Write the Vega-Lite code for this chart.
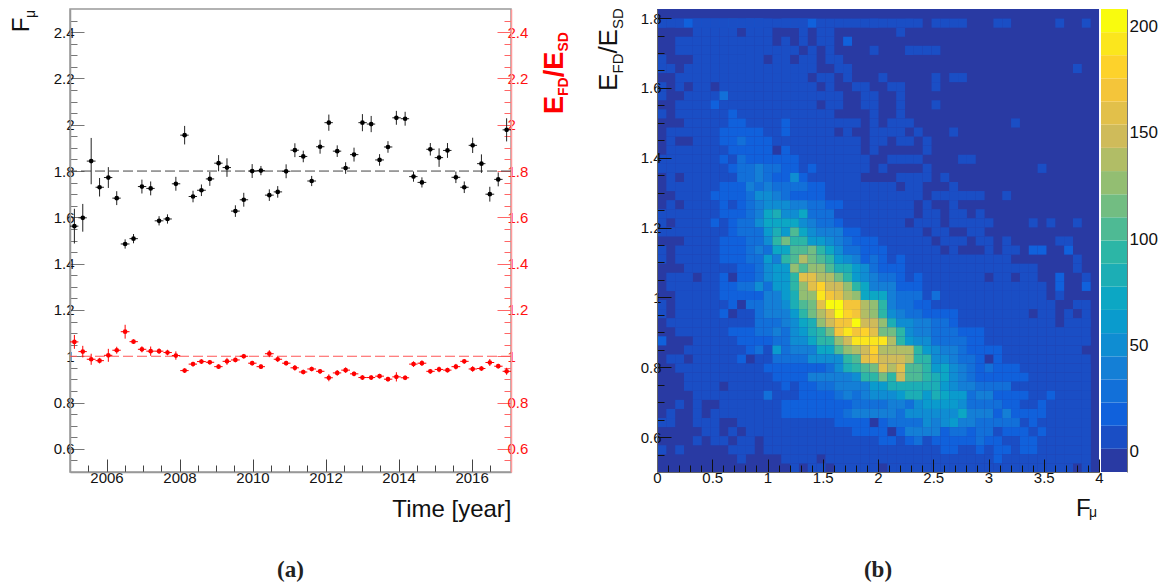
{
"$schema":"https://vega.github.io/schema/vega-lite/v6.json",
"padding":{"left":8,"top":8,"right":0,"bottom":0},
"background":"white",
"bounds":"flush",
"spacing":146,
"config":{"view":{"stroke":null},"axis":{"labelFont":"Liberation Sans","titleFont":"Liberation Sans","grid":false},"text":{"font":"Liberation Sans"},"title":{"font":"Liberation Serif","fontWeight":"bold","fontSize":23,"color":"#222"}},
"datasets":{"d":[
{"t":2005.12,"a":2005.0,"b":2005.23,"f":1.562,"fl":1.487,"fh":1.637,"e":1.062,"el":1.032,"eh":1.092},
{"t":2005.35,"a":2005.23,"b":2005.46,"f":1.598,"fl":1.538,"fh":1.658,"e":1.02,"el":0.995,"eh":1.045},
{"t":2005.58,"a":2005.46,"b":2005.7,"f":1.843,"fl":1.743,"fh":1.943,"e":0.987,"el":0.963,"eh":1.011},
{"t":2005.81,"a":2005.7,"b":2005.93,"f":1.73,"fl":1.69,"fh":1.77,"e":0.981,"el":0.969,"eh":0.993},
{"t":2006.05,"a":2005.93,"b":2006.16,"f":1.772,"fl":1.727,"fh":1.817,"e":1.004,"el":0.976,"eh":1.032},
{"t":2006.28,"a":2006.16,"b":2006.39,"f":1.683,"fl":1.653,"fh":1.713,"e":1.026,"el":1.011,"eh":1.041},
{"t":2006.51,"a":2006.39,"b":2006.63,"f":1.485,"fl":1.465,"fh":1.505,"e":1.106,"el":1.076,"eh":1.136},
{"t":2006.74,"a":2006.63,"b":2006.86,"f":1.508,"fl":1.488,"fh":1.528,"e":1.063,"el":1.053,"eh":1.073},
{"t":2006.97,"a":2006.86,"b":2007.09,"f":1.733,"fl":1.703,"fh":1.763,"e":1.03,"el":1.017,"eh":1.043},
{"t":2007.21,"a":2007.09,"b":2007.32,"f":1.725,"fl":1.695,"fh":1.755,"e":1.022,"el":1.002,"eh":1.042},
{"t":2007.44,"a":2007.32,"b":2007.56,"f":1.585,"fl":1.565,"fh":1.605,"e":1.022,"el":1.01,"eh":1.034},
{"t":2007.67,"a":2007.56,"b":2007.79,"f":1.593,"fl":1.573,"fh":1.613,"e":1.016,"el":1.004,"eh":1.028},
{"t":2007.9,"a":2007.79,"b":2008.02,"f":1.745,"fl":1.715,"fh":1.775,"e":1.003,"el":0.985,"eh":1.021},
{"t":2008.14,"a":2008.02,"b":2008.25,"f":1.955,"fl":1.915,"fh":1.995,"e":0.938,"el":0.928,"eh":0.948},
{"t":2008.37,"a":2008.25,"b":2008.48,"f":1.69,"fl":1.665,"fh":1.715,"e":0.966,"el":0.956,"eh":0.976},
{"t":2008.6,"a":2008.48,"b":2008.72,"f":1.717,"fl":1.692,"fh":1.742,"e":0.977,"el":0.967,"eh":0.987},
{"t":2008.83,"a":2008.72,"b":2008.95,"f":1.766,"fl":1.736,"fh":1.796,"e":0.974,"el":0.964,"eh":0.984},
{"t":2009.07,"a":2008.95,"b":2009.18,"f":1.834,"fl":1.799,"fh":1.869,"e":0.955,"el":0.945,"eh":0.965},
{"t":2009.3,"a":2009.18,"b":2009.41,"f":1.815,"fl":1.775,"fh":1.855,"e":0.978,"el":0.963,"eh":0.993},
{"t":2009.53,"a":2009.41,"b":2009.65,"f":1.627,"fl":1.602,"fh":1.652,"e":0.984,"el":0.974,"eh":0.994},
{"t":2009.76,"a":2009.65,"b":2009.88,"f":1.676,"fl":1.646,"fh":1.706,"e":1.0,"el":0.99,"eh":1.01},
{"t":2009.99,"a":2009.88,"b":2010.11,"f":1.8,"fl":1.77,"fh":1.83,"e":0.97,"el":0.96,"eh":0.98},
{"t":2010.23,"a":2010.11,"b":2010.34,"f":1.802,"fl":1.782,"fh":1.822,"e":0.955,"el":0.945,"eh":0.965},
{"t":2010.46,"a":2010.34,"b":2010.58,"f":1.696,"fl":1.671,"fh":1.721,"e":1.011,"el":0.996,"eh":1.026},
{"t":2010.69,"a":2010.58,"b":2010.81,"f":1.71,"fl":1.685,"fh":1.735,"e":0.987,"el":0.975,"eh":0.999},
{"t":2010.92,"a":2010.81,"b":2011.04,"f":1.799,"fl":1.769,"fh":1.829,"e":0.97,"el":0.96,"eh":0.98},
{"t":2011.16,"a":2011.04,"b":2011.27,"f":1.89,"fl":1.86,"fh":1.92,"e":0.95,"el":0.938,"eh":0.962},
{"t":2011.39,"a":2011.27,"b":2011.5,"f":1.863,"fl":1.838,"fh":1.888,"e":0.932,"el":0.922,"eh":0.942},
{"t":2011.62,"a":2011.5,"b":2011.74,"f":1.757,"fl":1.735,"fh":1.779,"e":0.945,"el":0.935,"eh":0.955},
{"t":2011.85,"a":2011.74,"b":2011.97,"f":1.905,"fl":1.875,"fh":1.935,"e":0.935,"el":0.925,"eh":0.945},
{"t":2012.09,"a":2011.97,"b":2012.2,"f":2.009,"fl":1.974,"fh":2.044,"e":0.907,"el":0.892,"eh":0.922},
{"t":2012.32,"a":2012.2,"b":2012.43,"f":1.886,"fl":1.861,"fh":1.911,"e":0.928,"el":0.916,"eh":0.94},
{"t":2012.55,"a":2012.43,"b":2012.67,"f":1.813,"fl":1.788,"fh":1.838,"e":0.94,"el":0.928,"eh":0.952},
{"t":2012.78,"a":2012.67,"b":2012.9,"f":1.871,"fl":1.841,"fh":1.901,"e":0.924,"el":0.914,"eh":0.934},
{"t":2013.01,"a":2012.9,"b":2013.13,"f":2.009,"fl":1.972,"fh":2.046,"e":0.908,"el":0.898,"eh":0.918},
{"t":2013.25,"a":2013.13,"b":2013.36,"f":2.003,"fl":1.968,"fh":2.038,"e":0.908,"el":0.898,"eh":0.918},
{"t":2013.48,"a":2013.36,"b":2013.6,"f":1.848,"fl":1.823,"fh":1.873,"e":0.914,"el":0.904,"eh":0.924},
{"t":2013.71,"a":2013.6,"b":2013.83,"f":1.904,"fl":1.879,"fh":1.929,"e":0.901,"el":0.891,"eh":0.911},
{"t":2013.94,"a":2013.83,"b":2014.06,"f":2.03,"fl":2.0,"fh":2.06,"e":0.911,"el":0.891,"eh":0.931},
{"t":2014.18,"a":2014.06,"b":2014.29,"f":2.026,"fl":1.996,"fh":2.056,"e":0.907,"el":0.897,"eh":0.917},
{"t":2014.41,"a":2014.29,"b":2014.52,"f":1.776,"fl":1.754,"fh":1.798,"e":0.966,"el":0.954,"eh":0.978},
{"t":2014.64,"a":2014.52,"b":2014.76,"f":1.751,"fl":1.729,"fh":1.773,"e":0.97,"el":0.958,"eh":0.982},
{"t":2014.87,"a":2014.76,"b":2014.99,"f":1.894,"fl":1.867,"fh":1.921,"e":0.935,"el":0.925,"eh":0.945},
{"t":2015.11,"a":2014.99,"b":2015.22,"f":1.858,"fl":1.818,"fh":1.898,"e":0.943,"el":0.931,"eh":0.955},
{"t":2015.34,"a":2015.22,"b":2015.45,"f":1.889,"fl":1.857,"fh":1.921,"e":0.94,"el":0.93,"eh":0.95},
{"t":2015.57,"a":2015.45,"b":2015.69,"f":1.773,"fl":1.748,"fh":1.798,"e":0.955,"el":0.943,"eh":0.967},
{"t":2015.8,"a":2015.69,"b":2015.92,"f":1.73,"fl":1.705,"fh":1.755,"e":0.978,"el":0.968,"eh":0.988},
{"t":2016.03,"a":2015.92,"b":2016.15,"f":1.911,"fl":1.878,"fh":1.944,"e":0.945,"el":0.933,"eh":0.957},
{"t":2016.27,"a":2016.15,"b":2016.38,"f":1.832,"fl":1.792,"fh":1.872,"e":0.947,"el":0.937,"eh":0.957},
{"t":2016.5,"a":2016.38,"b":2016.62,"f":1.7,"fl":1.668,"fh":1.732,"e":0.973,"el":0.958,"eh":0.988},
{"t":2016.73,"a":2016.62,"b":2016.85,"f":1.764,"fl":1.734,"fh":1.794,"e":0.957,"el":0.947,"eh":0.967},
{"t":2016.96,"a":2016.85,"b":2017.08,"f":1.978,"fl":1.928,"fh":2.028,"e":0.935,"el":0.92,"eh":0.95}
],
"h":[
{"i":0,"j":50,"n":7},{"i":1,"j":50,"n":7},{"i":2,"j":50,"n":7},{"i":3,"j":50,"n":18},{"i":4,"j":50,"n":18},{"i":5,"j":50,"n":18},{"i":6,"j":50,"n":18},{"i":7,"j":50,"n":18},{"i":8,"j":50,"n":29},{"i":9,"j":50,"n":18},{"i":10,"j":50,"n":18},{"i":11,"j":50,"n":18},{"i":12,"j":50,"n":7},{"i":13,"j":50,"n":7},{"i":14,"j":50,"n":7},{"i":15,"j":50,"n":18},{"i":16,"j":50,"n":18},{"i":17,"j":50,"n":18},{"i":18,"j":50,"n":7},{"i":19,"j":50,"n":7},{"i":20,"j":50,"n":7},{"i":21,"j":50,"n":7},{"i":22,"j":50,"n":7},{"i":23,"j":50,"n":7},{"i":24,"j":50,"n":7},{"i":25,"j":50,"n":7},{"i":26,"j":50,"n":7},{"i":27,"j":50,"n":7},{"i":28,"j":50,"n":7},{"i":29,"j":50,"n":7},{"i":31,"j":50,"n":7},{"i":32,"j":50,"n":7},{"i":33,"j":50,"n":7},{"i":34,"j":50,"n":7},{"i":38,"j":50,"n":7},{"i":39,"j":50,"n":7},{"i":45,"j":50,"n":7},{"i":49,"j":50,"n":7},
{"i":0,"j":49,"n":7},{"i":2,"j":49,"n":7},{"i":4,"j":49,"n":7},{"i":5,"j":49,"n":7},{"i":6,"j":49,"n":7},{"i":7,"j":49,"n":7},{"i":8,"j":49,"n":7},{"i":9,"j":49,"n":7},{"i":10,"j":49,"n":7},{"i":11,"j":49,"n":7},{"i":12,"j":49,"n":7},{"i":14,"j":49,"n":7},{"i":15,"j":49,"n":7},{"i":16,"j":49,"n":7},{"i":24,"j":49,"n":7},
{"i":4,"j":48,"n":7},{"i":5,"j":48,"n":7},{"i":6,"j":48,"n":7},{"i":7,"j":48,"n":7},{"i":8,"j":48,"n":7},{"i":10,"j":48,"n":7},{"i":11,"j":48,"n":7},{"i":12,"j":48,"n":7},{"i":16,"j":48,"n":7},{"i":18,"j":48,"n":7},{"i":19,"j":48,"n":7},{"i":27,"j":48,"n":7},
{"i":2,"j":47,"n":7},{"i":3,"j":47,"n":7},{"i":4,"j":47,"n":7},{"i":5,"j":47,"n":7},{"i":6,"j":47,"n":7},{"i":7,"j":47,"n":7},{"i":8,"j":47,"n":7},{"i":9,"j":47,"n":7},{"i":10,"j":47,"n":7},{"i":11,"j":47,"n":7},{"i":12,"j":47,"n":7},{"i":14,"j":47,"n":7},{"i":16,"j":47,"n":7},{"i":18,"j":47,"n":7},{"i":19,"j":47,"n":7},{"i":21,"j":47,"n":18},
{"i":2,"j":46,"n":7},{"i":3,"j":46,"n":7},{"i":4,"j":46,"n":7},{"i":5,"j":46,"n":7},{"i":6,"j":46,"n":7},{"i":7,"j":46,"n":7},{"i":8,"j":46,"n":7},{"i":9,"j":46,"n":7},{"i":10,"j":46,"n":7},{"i":11,"j":46,"n":7},{"i":12,"j":46,"n":7},{"i":13,"j":46,"n":7},{"i":14,"j":46,"n":7},{"i":15,"j":46,"n":7},{"i":17,"j":46,"n":7},{"i":19,"j":46,"n":7},{"i":24,"j":46,"n":7},{"i":28,"j":46,"n":7},{"i":29,"j":46,"n":7},{"i":30,"j":46,"n":7},{"i":31,"j":46,"n":7},
{"i":0,"j":45,"n":7},{"i":4,"j":45,"n":7},{"i":5,"j":45,"n":7},{"i":6,"j":45,"n":7},{"i":7,"j":45,"n":7},{"i":8,"j":45,"n":7},{"i":9,"j":45,"n":7},{"i":10,"j":45,"n":7},{"i":11,"j":45,"n":7},{"i":13,"j":45,"n":7},{"i":14,"j":45,"n":7},{"i":16,"j":45,"n":7},{"i":17,"j":45,"n":7},{"i":19,"j":45,"n":7},{"i":20,"j":45,"n":7},
{"i":0,"j":44,"n":7},{"i":1,"j":44,"n":7},{"i":3,"j":44,"n":7},{"i":4,"j":44,"n":7},{"i":5,"j":44,"n":7},{"i":6,"j":44,"n":7},{"i":7,"j":44,"n":7},{"i":8,"j":44,"n":7},{"i":9,"j":44,"n":7},{"i":10,"j":44,"n":7},{"i":11,"j":44,"n":7},{"i":12,"j":44,"n":7},{"i":13,"j":44,"n":7},{"i":14,"j":44,"n":7},{"i":15,"j":44,"n":7},{"i":16,"j":44,"n":7},{"i":17,"j":44,"n":7},{"i":20,"j":44,"n":7},{"i":21,"j":44,"n":7},{"i":47,"j":44,"n":7},
{"i":2,"j":43,"n":7},{"i":3,"j":43,"n":7},{"i":4,"j":43,"n":7},{"i":5,"j":43,"n":7},{"i":6,"j":43,"n":7},{"i":7,"j":43,"n":7},{"i":8,"j":43,"n":7},{"i":9,"j":43,"n":7},{"i":10,"j":43,"n":7},{"i":11,"j":43,"n":7},{"i":12,"j":43,"n":7},{"i":13,"j":43,"n":7},{"i":14,"j":43,"n":7},{"i":15,"j":43,"n":7},{"i":16,"j":43,"n":7},{"i":18,"j":43,"n":7},{"i":19,"j":43,"n":7},{"i":21,"j":43,"n":7},{"i":25,"j":43,"n":7},{"i":31,"j":43,"n":7},{"i":33,"j":43,"n":7},{"i":34,"j":43,"n":7},
{"i":0,"j":42,"n":7},{"i":2,"j":42,"n":7},{"i":4,"j":42,"n":7},{"i":5,"j":42,"n":7},{"i":7,"j":42,"n":7},{"i":8,"j":42,"n":7},{"i":9,"j":42,"n":7},{"i":10,"j":42,"n":7},{"i":11,"j":42,"n":7},{"i":12,"j":42,"n":7},{"i":13,"j":42,"n":7},{"i":14,"j":42,"n":7},{"i":15,"j":42,"n":7},{"i":16,"j":42,"n":7},{"i":17,"j":42,"n":7},{"i":19,"j":42,"n":7},{"i":22,"j":42,"n":7},{"i":23,"j":42,"n":7},{"i":26,"j":42,"n":7},{"i":27,"j":42,"n":7},{"i":31,"j":42,"n":7},
{"i":0,"j":41,"n":7},{"i":3,"j":41,"n":7},{"i":4,"j":41,"n":7},{"i":5,"j":41,"n":7},{"i":6,"j":41,"n":7},{"i":7,"j":41,"n":29},{"i":8,"j":41,"n":7},{"i":9,"j":41,"n":7},{"i":10,"j":41,"n":7},{"i":11,"j":41,"n":7},{"i":12,"j":41,"n":7},{"i":13,"j":41,"n":7},{"i":14,"j":41,"n":7},{"i":15,"j":41,"n":7},{"i":16,"j":41,"n":7},{"i":17,"j":41,"n":7},{"i":18,"j":41,"n":7},{"i":19,"j":41,"n":7},{"i":20,"j":41,"n":7},{"i":23,"j":41,"n":7},{"i":24,"j":41,"n":7},{"i":27,"j":41,"n":7},
{"i":2,"j":40,"n":7},{"i":3,"j":40,"n":7},{"i":4,"j":40,"n":7},{"i":5,"j":40,"n":7},{"i":6,"j":40,"n":18},{"i":7,"j":40,"n":7},{"i":8,"j":40,"n":7},{"i":9,"j":40,"n":7},{"i":10,"j":40,"n":7},{"i":11,"j":40,"n":7},{"i":12,"j":40,"n":7},{"i":13,"j":40,"n":7},{"i":14,"j":40,"n":7},{"i":15,"j":40,"n":7},{"i":16,"j":40,"n":7},{"i":17,"j":40,"n":7},{"i":19,"j":40,"n":7},{"i":20,"j":40,"n":7},{"i":23,"j":40,"n":7},{"i":24,"j":40,"n":7},{"i":27,"j":40,"n":7},{"i":31,"j":40,"n":7},
{"i":0,"j":39,"n":7},{"i":2,"j":39,"n":7},{"i":3,"j":39,"n":7},{"i":4,"j":39,"n":7},{"i":5,"j":39,"n":7},{"i":6,"j":39,"n":7},{"i":7,"j":39,"n":7},{"i":8,"j":39,"n":18},{"i":9,"j":39,"n":7},{"i":10,"j":39,"n":7},{"i":11,"j":39,"n":7},{"i":12,"j":39,"n":7},{"i":13,"j":39,"n":7},{"i":14,"j":39,"n":7},{"i":15,"j":39,"n":7},{"i":16,"j":39,"n":7},{"i":17,"j":39,"n":7},{"i":18,"j":39,"n":7},{"i":19,"j":39,"n":7},{"i":24,"j":39,"n":7},{"i":27,"j":39,"n":7},
{"i":3,"j":38,"n":7},{"i":4,"j":38,"n":7},{"i":5,"j":38,"n":7},{"i":6,"j":38,"n":7},{"i":7,"j":38,"n":7},{"i":8,"j":38,"n":18},{"i":9,"j":38,"n":18},{"i":10,"j":38,"n":7},{"i":11,"j":38,"n":7},{"i":12,"j":38,"n":7},{"i":13,"j":38,"n":7},{"i":14,"j":38,"n":18},{"i":15,"j":38,"n":7},{"i":16,"j":38,"n":7},{"i":17,"j":38,"n":7},{"i":18,"j":38,"n":7},{"i":19,"j":38,"n":7},{"i":20,"j":38,"n":7},{"i":21,"j":38,"n":7},{"i":22,"j":38,"n":7},{"i":24,"j":38,"n":7},{"i":26,"j":38,"n":7},{"i":27,"j":38,"n":7},{"i":28,"j":38,"n":7},{"i":40,"j":38,"n":7},
{"i":1,"j":37,"n":7},{"i":2,"j":37,"n":7},{"i":3,"j":37,"n":7},{"i":4,"j":37,"n":7},{"i":5,"j":37,"n":7},{"i":6,"j":37,"n":7},{"i":7,"j":37,"n":18},{"i":8,"j":37,"n":18},{"i":9,"j":37,"n":18},{"i":10,"j":37,"n":18},{"i":11,"j":37,"n":18},{"i":12,"j":37,"n":7},{"i":13,"j":37,"n":7},{"i":14,"j":37,"n":18},{"i":15,"j":37,"n":7},{"i":16,"j":37,"n":7},{"i":17,"j":37,"n":7},{"i":18,"j":37,"n":7},{"i":19,"j":37,"n":7},{"i":21,"j":37,"n":7},{"i":24,"j":37,"n":7},{"i":25,"j":37,"n":7},{"i":26,"j":37,"n":7},{"i":27,"j":37,"n":7},{"i":29,"j":37,"n":7},{"i":33,"j":37,"n":7},
{"i":1,"j":36,"n":7},{"i":4,"j":36,"n":7},{"i":5,"j":36,"n":7},{"i":6,"j":36,"n":7},{"i":7,"j":36,"n":18},{"i":8,"j":36,"n":18},{"i":9,"j":36,"n":29},{"i":10,"j":36,"n":18},{"i":11,"j":36,"n":18},{"i":12,"j":36,"n":18},{"i":13,"j":36,"n":7},{"i":14,"j":36,"n":7},{"i":15,"j":36,"n":7},{"i":16,"j":36,"n":7},{"i":17,"j":36,"n":7},{"i":18,"j":36,"n":7},{"i":19,"j":36,"n":7},{"i":20,"j":36,"n":7},{"i":21,"j":36,"n":7},{"i":22,"j":36,"n":7},{"i":24,"j":36,"n":7},{"i":25,"j":36,"n":7},{"i":27,"j":36,"n":7},{"i":28,"j":36,"n":7},{"i":30,"j":36,"n":7},
{"i":1,"j":35,"n":7},{"i":2,"j":35,"n":7},{"i":3,"j":35,"n":7},{"i":4,"j":35,"n":7},{"i":5,"j":35,"n":7},{"i":6,"j":35,"n":7},{"i":7,"j":35,"n":7},{"i":8,"j":35,"n":18},{"i":9,"j":35,"n":18},{"i":10,"j":35,"n":18},{"i":11,"j":35,"n":18},{"i":12,"j":35,"n":18},{"i":14,"j":35,"n":18},{"i":15,"j":35,"n":7},{"i":16,"j":35,"n":7},{"i":17,"j":35,"n":7},{"i":18,"j":35,"n":7},{"i":19,"j":35,"n":7},{"i":20,"j":35,"n":7},{"i":21,"j":35,"n":7},{"i":22,"j":35,"n":7},{"i":24,"j":35,"n":7},{"i":30,"j":35,"n":7},
{"i":0,"j":34,"n":7},{"i":1,"j":34,"n":7},{"i":2,"j":34,"n":7},{"i":3,"j":34,"n":7},{"i":4,"j":34,"n":7},{"i":5,"j":34,"n":7},{"i":6,"j":34,"n":7},{"i":7,"j":34,"n":18},{"i":8,"j":34,"n":7},{"i":9,"j":34,"n":29},{"i":10,"j":34,"n":18},{"i":11,"j":34,"n":18},{"i":12,"j":34,"n":18},{"i":13,"j":34,"n":18},{"i":14,"j":34,"n":18},{"i":15,"j":34,"n":18},{"i":16,"j":34,"n":7},{"i":17,"j":34,"n":7},{"i":18,"j":34,"n":7},{"i":19,"j":34,"n":7},{"i":20,"j":34,"n":7},{"i":21,"j":34,"n":7},{"i":22,"j":34,"n":7},{"i":23,"j":34,"n":7},{"i":26,"j":34,"n":7},{"i":27,"j":34,"n":7},{"i":28,"j":34,"n":7},{"i":29,"j":34,"n":7},{"i":34,"j":34,"n":7},{"i":35,"j":34,"n":7},
{"i":0,"j":33,"n":7},{"i":1,"j":33,"n":7},{"i":2,"j":33,"n":7},{"i":3,"j":33,"n":7},{"i":4,"j":33,"n":7},{"i":5,"j":33,"n":7},{"i":6,"j":33,"n":7},{"i":7,"j":33,"n":7},{"i":8,"j":33,"n":18},{"i":9,"j":33,"n":29},{"i":10,"j":33,"n":29},{"i":11,"j":33,"n":39},{"i":12,"j":33,"n":29},{"i":13,"j":33,"n":29},{"i":14,"j":33,"n":18},{"i":15,"j":33,"n":18},{"i":16,"j":33,"n":7},{"i":17,"j":33,"n":18},{"i":18,"j":33,"n":7},{"i":19,"j":33,"n":7},{"i":20,"j":33,"n":7},{"i":21,"j":33,"n":7},{"i":22,"j":33,"n":7},{"i":23,"j":33,"n":7},{"i":25,"j":33,"n":7},{"i":30,"j":33,"n":7},{"i":43,"j":33,"n":7},
{"i":1,"j":32,"n":7},{"i":3,"j":32,"n":7},{"i":4,"j":32,"n":7},{"i":5,"j":32,"n":7},{"i":6,"j":32,"n":7},{"i":7,"j":32,"n":7},{"i":8,"j":32,"n":7},{"i":9,"j":32,"n":29},{"i":10,"j":32,"n":29},{"i":11,"j":32,"n":39},{"i":12,"j":32,"n":29},{"i":13,"j":32,"n":18},{"i":14,"j":32,"n":18},{"i":15,"j":32,"n":50},{"i":16,"j":32,"n":18},{"i":17,"j":32,"n":7},{"i":18,"j":32,"n":7},{"i":19,"j":32,"n":7},{"i":20,"j":32,"n":7},{"i":21,"j":32,"n":7},{"i":22,"j":32,"n":7},{"i":27,"j":32,"n":7},{"i":28,"j":32,"n":7},{"i":29,"j":32,"n":7},{"i":30,"j":32,"n":7},{"i":32,"j":32,"n":7},
{"i":1,"j":31,"n":7},{"i":2,"j":31,"n":7},{"i":3,"j":31,"n":7},{"i":4,"j":31,"n":7},{"i":5,"j":31,"n":7},{"i":6,"j":31,"n":7},{"i":7,"j":31,"n":18},{"i":8,"j":31,"n":18},{"i":9,"j":31,"n":18},{"i":10,"j":31,"n":39},{"i":11,"j":31,"n":29},{"i":12,"j":31,"n":39},{"i":13,"j":31,"n":29},{"i":14,"j":31,"n":29},{"i":15,"j":31,"n":29},{"i":16,"j":31,"n":29},{"i":17,"j":31,"n":18},{"i":18,"j":31,"n":18},{"i":19,"j":31,"n":7},{"i":20,"j":31,"n":7},{"i":21,"j":31,"n":7},{"i":22,"j":31,"n":7},{"i":23,"j":31,"n":7},{"i":24,"j":31,"n":7},{"i":25,"j":31,"n":7},{"i":26,"j":31,"n":7},{"i":28,"j":31,"n":7},{"i":29,"j":31,"n":7},{"i":33,"j":31,"n":7},
{"i":2,"j":30,"n":7},{"i":3,"j":30,"n":7},{"i":4,"j":30,"n":7},{"i":5,"j":30,"n":7},{"i":6,"j":30,"n":18},{"i":7,"j":30,"n":18},{"i":8,"j":30,"n":18},{"i":9,"j":30,"n":18},{"i":10,"j":30,"n":29},{"i":11,"j":30,"n":50},{"i":12,"j":30,"n":50},{"i":13,"j":30,"n":39},{"i":14,"j":30,"n":29},{"i":15,"j":30,"n":18},{"i":16,"j":30,"n":18},{"i":17,"j":30,"n":18},{"i":18,"j":30,"n":18},{"i":19,"j":30,"n":7},{"i":20,"j":30,"n":7},{"i":21,"j":30,"n":7},{"i":22,"j":30,"n":7},{"i":23,"j":30,"n":7},{"i":24,"j":30,"n":7},{"i":25,"j":30,"n":7},{"i":26,"j":30,"n":7},{"i":27,"j":30,"n":7},{"i":28,"j":30,"n":7},{"i":29,"j":30,"n":7},{"i":31,"j":30,"n":7},{"i":32,"j":30,"n":7},{"i":33,"j":30,"n":7},{"i":34,"j":30,"n":7},{"i":35,"j":30,"n":7},{"i":36,"j":30,"n":7},{"i":39,"j":30,"n":7},
{"i":1,"j":29,"n":7},{"i":3,"j":29,"n":7},{"i":4,"j":29,"n":7},{"i":5,"j":29,"n":7},{"i":6,"j":29,"n":7},{"i":7,"j":29,"n":18},{"i":8,"j":29,"n":7},{"i":9,"j":29,"n":18},{"i":10,"j":29,"n":29},{"i":11,"j":29,"n":39},{"i":12,"j":29,"n":50},{"i":13,"j":29,"n":50},{"i":14,"j":29,"n":50},{"i":15,"j":29,"n":39},{"i":16,"j":29,"n":39},{"i":17,"j":29,"n":29},{"i":18,"j":29,"n":29},{"i":19,"j":29,"n":18},{"i":20,"j":29,"n":18},{"i":21,"j":29,"n":7},{"i":22,"j":29,"n":7},{"i":23,"j":29,"n":7},{"i":24,"j":29,"n":7},{"i":25,"j":29,"n":7},{"i":26,"j":29,"n":7},{"i":27,"j":29,"n":7},{"i":28,"j":29,"n":7},{"i":30,"j":29,"n":7},{"i":33,"j":29,"n":7},
{"i":0,"j":28,"n":7},{"i":1,"j":28,"n":7},{"i":2,"j":28,"n":7},{"i":3,"j":28,"n":7},{"i":4,"j":28,"n":7},{"i":5,"j":28,"n":7},{"i":6,"j":28,"n":7},{"i":7,"j":28,"n":18},{"i":8,"j":28,"n":18},{"i":9,"j":28,"n":18},{"i":10,"j":28,"n":29},{"i":11,"j":28,"n":39},{"i":12,"j":28,"n":72},{"i":13,"j":28,"n":83},{"i":14,"j":28,"n":50},{"i":15,"j":28,"n":50},{"i":16,"j":28,"n":72},{"i":17,"j":28,"n":29},{"i":18,"j":28,"n":29},{"i":19,"j":28,"n":29},{"i":20,"j":28,"n":7},{"i":21,"j":28,"n":7},{"i":22,"j":28,"n":7},{"i":23,"j":28,"n":7},{"i":24,"j":28,"n":7},{"i":25,"j":28,"n":7},{"i":26,"j":28,"n":7},{"i":27,"j":28,"n":7},{"i":28,"j":28,"n":7},{"i":30,"j":28,"n":7},{"i":31,"j":28,"n":7},{"i":33,"j":28,"n":7},{"i":34,"j":28,"n":7},{"i":36,"j":28,"n":7},
{"i":0,"j":27,"n":7},{"i":2,"j":27,"n":7},{"i":3,"j":27,"n":7},{"i":4,"j":27,"n":7},{"i":5,"j":27,"n":7},{"i":6,"j":27,"n":18},{"i":7,"j":27,"n":7},{"i":8,"j":27,"n":18},{"i":9,"j":27,"n":29},{"i":10,"j":27,"n":29},{"i":11,"j":27,"n":50},{"i":12,"j":27,"n":72},{"i":13,"j":27,"n":72},{"i":14,"j":27,"n":72},{"i":15,"j":27,"n":72},{"i":16,"j":27,"n":50},{"i":17,"j":27,"n":39},{"i":18,"j":27,"n":29},{"i":19,"j":27,"n":29},{"i":20,"j":27,"n":18},{"i":21,"j":27,"n":7},{"i":22,"j":27,"n":7},{"i":23,"j":27,"n":7},{"i":24,"j":27,"n":7},{"i":25,"j":27,"n":7},{"i":26,"j":27,"n":7},{"i":27,"j":27,"n":7},{"i":29,"j":27,"n":7},{"i":30,"j":27,"n":7},{"i":31,"j":27,"n":7},{"i":33,"j":27,"n":7},{"i":34,"j":27,"n":7},{"i":35,"j":27,"n":7},{"i":36,"j":27,"n":7},{"i":37,"j":27,"n":7},{"i":42,"j":27,"n":7},{"i":44,"j":27,"n":7},{"i":47,"j":27,"n":7},
{"i":0,"j":26,"n":7},{"i":1,"j":26,"n":7},{"i":2,"j":26,"n":7},{"i":3,"j":26,"n":7},{"i":4,"j":26,"n":7},{"i":5,"j":26,"n":7},{"i":6,"j":26,"n":7},{"i":7,"j":26,"n":7},{"i":8,"j":26,"n":18},{"i":9,"j":26,"n":29},{"i":10,"j":26,"n":29},{"i":11,"j":26,"n":29},{"i":12,"j":26,"n":61},{"i":13,"j":26,"n":83},{"i":14,"j":26,"n":61},{"i":15,"j":26,"n":105},{"i":16,"j":26,"n":72},{"i":17,"j":26,"n":50},{"i":18,"j":26,"n":39},{"i":19,"j":26,"n":39},{"i":20,"j":26,"n":39},{"i":21,"j":26,"n":18},{"i":22,"j":26,"n":18},{"i":23,"j":26,"n":7},{"i":24,"j":26,"n":7},{"i":25,"j":26,"n":7},{"i":26,"j":26,"n":7},{"i":27,"j":26,"n":7},{"i":28,"j":26,"n":7},{"i":29,"j":26,"n":7},{"i":31,"j":26,"n":7},{"i":32,"j":26,"n":7},{"i":35,"j":26,"n":7},{"i":36,"j":26,"n":7},
{"i":3,"j":25,"n":7},{"i":4,"j":25,"n":7},{"i":5,"j":25,"n":7},{"i":6,"j":25,"n":7},{"i":7,"j":25,"n":18},{"i":8,"j":25,"n":18},{"i":9,"j":25,"n":18},{"i":10,"j":25,"n":29},{"i":11,"j":25,"n":29},{"i":12,"j":25,"n":50},{"i":13,"j":25,"n":94},{"i":14,"j":25,"n":116},{"i":15,"j":25,"n":94},{"i":16,"j":25,"n":94},{"i":17,"j":25,"n":61},{"i":18,"j":25,"n":61},{"i":19,"j":25,"n":50},{"i":20,"j":25,"n":39},{"i":21,"j":25,"n":29},{"i":22,"j":25,"n":18},{"i":23,"j":25,"n":18},{"i":24,"j":25,"n":18},{"i":25,"j":25,"n":7},{"i":26,"j":25,"n":7},{"i":27,"j":25,"n":7},{"i":28,"j":25,"n":7},{"i":29,"j":25,"n":7},{"i":30,"j":25,"n":7},{"i":32,"j":25,"n":7},{"i":33,"j":25,"n":7},{"i":34,"j":25,"n":7},{"i":36,"j":25,"n":7},{"i":37,"j":25,"n":7},{"i":39,"j":25,"n":7},{"i":45,"j":25,"n":7},{"i":46,"j":25,"n":7},
{"i":0,"j":24,"n":7},{"i":2,"j":24,"n":7},{"i":3,"j":24,"n":7},{"i":4,"j":24,"n":7},{"i":5,"j":24,"n":7},{"i":6,"j":24,"n":7},{"i":7,"j":24,"n":18},{"i":8,"j":24,"n":18},{"i":9,"j":24,"n":18},{"i":10,"j":24,"n":29},{"i":11,"j":24,"n":39},{"i":12,"j":24,"n":29},{"i":13,"j":24,"n":72},{"i":14,"j":24,"n":72},{"i":15,"j":24,"n":105},{"i":16,"j":24,"n":105},{"i":17,"j":24,"n":116},{"i":18,"j":24,"n":94},{"i":19,"j":24,"n":72},{"i":20,"j":24,"n":50},{"i":21,"j":24,"n":29},{"i":22,"j":24,"n":29},{"i":23,"j":24,"n":18},{"i":24,"j":24,"n":18},{"i":25,"j":24,"n":18},{"i":26,"j":24,"n":7},{"i":27,"j":24,"n":7},{"i":28,"j":24,"n":7},{"i":29,"j":24,"n":7},{"i":30,"j":24,"n":7},{"i":31,"j":24,"n":7},{"i":33,"j":24,"n":7},{"i":37,"j":24,"n":7},{"i":39,"j":24,"n":7},{"i":40,"j":24,"n":7},{"i":42,"j":24,"n":18},{"i":43,"j":24,"n":18},{"i":46,"j":24,"n":18},
{"i":0,"j":23,"n":7},{"i":2,"j":23,"n":7},{"i":3,"j":23,"n":7},{"i":4,"j":23,"n":7},{"i":5,"j":23,"n":7},{"i":6,"j":23,"n":7},{"i":7,"j":23,"n":18},{"i":8,"j":23,"n":18},{"i":9,"j":23,"n":18},{"i":10,"j":23,"n":29},{"i":11,"j":23,"n":29},{"i":12,"j":23,"n":61},{"i":13,"j":23,"n":39},{"i":14,"j":23,"n":94},{"i":15,"j":23,"n":105},{"i":16,"j":23,"n":137},{"i":17,"j":23,"n":116},{"i":18,"j":23,"n":105},{"i":19,"j":23,"n":94},{"i":20,"j":23,"n":61},{"i":21,"j":23,"n":50},{"i":22,"j":23,"n":39},{"i":23,"j":23,"n":18},{"i":24,"j":23,"n":29},{"i":25,"j":23,"n":18},{"i":26,"j":23,"n":7},{"i":27,"j":23,"n":18},{"i":28,"j":23,"n":7},{"i":29,"j":23,"n":7},{"i":30,"j":23,"n":7},{"i":31,"j":23,"n":7},{"i":32,"j":23,"n":7},{"i":33,"j":23,"n":7},{"i":34,"j":23,"n":7},{"i":35,"j":23,"n":7},{"i":36,"j":23,"n":7},{"i":37,"j":23,"n":7},{"i":38,"j":23,"n":7},{"i":39,"j":23,"n":7},{"i":47,"j":23,"n":7},
{"i":3,"j":22,"n":7},{"i":4,"j":22,"n":7},{"i":5,"j":22,"n":7},{"i":6,"j":22,"n":7},{"i":7,"j":22,"n":7},{"i":8,"j":22,"n":7},{"i":9,"j":22,"n":18},{"i":10,"j":22,"n":18},{"i":11,"j":22,"n":29},{"i":12,"j":22,"n":50},{"i":13,"j":22,"n":61},{"i":14,"j":22,"n":61},{"i":15,"j":22,"n":126},{"i":16,"j":22,"n":105},{"i":17,"j":22,"n":126},{"i":18,"j":22,"n":126},{"i":19,"j":22,"n":105},{"i":20,"j":22,"n":83},{"i":21,"j":22,"n":83},{"i":22,"j":22,"n":61},{"i":23,"j":22,"n":50},{"i":24,"j":22,"n":29},{"i":25,"j":22,"n":18},{"i":26,"j":22,"n":18},{"i":27,"j":22,"n":18},{"i":28,"j":22,"n":7},{"i":29,"j":22,"n":7},{"i":30,"j":22,"n":7},{"i":31,"j":22,"n":7},{"i":32,"j":22,"n":7},{"i":33,"j":22,"n":7},{"i":34,"j":22,"n":7},{"i":35,"j":22,"n":7},{"i":36,"j":22,"n":7},{"i":37,"j":22,"n":7},{"i":38,"j":22,"n":7},{"i":39,"j":22,"n":7},{"i":40,"j":22,"n":7},{"i":41,"j":22,"n":7},{"i":42,"j":22,"n":7},{"i":47,"j":22,"n":7},
{"i":1,"j":21,"n":7},{"i":2,"j":21,"n":7},{"i":3,"j":21,"n":7},{"i":5,"j":21,"n":7},{"i":6,"j":21,"n":7},{"i":7,"j":21,"n":18},{"i":9,"j":21,"n":18},{"i":10,"j":21,"n":18},{"i":11,"j":21,"n":29},{"i":12,"j":21,"n":50},{"i":13,"j":21,"n":61},{"i":14,"j":21,"n":61},{"i":15,"j":21,"n":94},{"i":16,"j":21,"n":159},{"i":17,"j":21,"n":159},{"i":18,"j":21,"n":137},{"i":19,"j":21,"n":137},{"i":20,"j":21,"n":116},{"i":21,"j":21,"n":94},{"i":22,"j":21,"n":61},{"i":23,"j":21,"n":50},{"i":24,"j":21,"n":39},{"i":25,"j":21,"n":29},{"i":26,"j":21,"n":29},{"i":27,"j":21,"n":18},{"i":28,"j":21,"n":7},{"i":29,"j":21,"n":18},{"i":30,"j":21,"n":7},{"i":31,"j":21,"n":7},{"i":32,"j":21,"n":7},{"i":33,"j":21,"n":7},{"i":34,"j":21,"n":7},{"i":35,"j":21,"n":7},{"i":36,"j":21,"n":7},{"i":38,"j":21,"n":7},{"i":39,"j":21,"n":7},{"i":41,"j":21,"n":7},{"i":42,"j":21,"n":7},{"i":45,"j":21,"n":18},{"i":48,"j":21,"n":7},
{"i":1,"j":20,"n":7},{"i":2,"j":20,"n":7},{"i":3,"j":20,"n":7},{"i":4,"j":20,"n":7},{"i":5,"j":20,"n":7},{"i":6,"j":20,"n":7},{"i":7,"j":20,"n":18},{"i":8,"j":20,"n":18},{"i":9,"j":20,"n":29},{"i":10,"j":20,"n":29},{"i":11,"j":20,"n":50},{"i":12,"j":20,"n":29},{"i":13,"j":20,"n":61},{"i":14,"j":20,"n":61},{"i":15,"j":20,"n":94},{"i":16,"j":20,"n":126},{"i":17,"j":20,"n":159},{"i":18,"j":20,"n":181},{"i":19,"j":20,"n":148},{"i":20,"j":20,"n":148},{"i":21,"j":20,"n":126},{"i":22,"j":20,"n":94},{"i":23,"j":20,"n":72},{"i":24,"j":20,"n":39},{"i":25,"j":20,"n":39},{"i":26,"j":20,"n":39},{"i":27,"j":20,"n":18},{"i":28,"j":20,"n":18},{"i":29,"j":20,"n":18},{"i":30,"j":20,"n":7},{"i":31,"j":20,"n":7},{"i":32,"j":20,"n":7},{"i":33,"j":20,"n":7},{"i":34,"j":20,"n":7},{"i":35,"j":20,"n":7},{"i":36,"j":20,"n":7},{"i":37,"j":20,"n":7},{"i":38,"j":20,"n":7},{"i":39,"j":20,"n":7},{"i":40,"j":20,"n":7},{"i":41,"j":20,"n":7},{"i":42,"j":20,"n":7},{"i":43,"j":20,"n":7},{"i":45,"j":20,"n":18},{"i":48,"j":20,"n":18},
{"i":2,"j":19,"n":7},{"i":3,"j":19,"n":7},{"i":4,"j":19,"n":7},{"i":5,"j":19,"n":7},{"i":6,"j":19,"n":7},{"i":7,"j":19,"n":18},{"i":8,"j":19,"n":18},{"i":9,"j":19,"n":18},{"i":10,"j":19,"n":18},{"i":11,"j":19,"n":18},{"i":12,"j":19,"n":39},{"i":13,"j":19,"n":39},{"i":14,"j":19,"n":61},{"i":15,"j":19,"n":83},{"i":16,"j":19,"n":126},{"i":17,"j":19,"n":126},{"i":18,"j":19,"n":192},{"i":19,"j":19,"n":170},{"i":20,"j":19,"n":159},{"i":21,"j":19,"n":137},{"i":22,"j":19,"n":126},{"i":23,"j":19,"n":72},{"i":24,"j":19,"n":72},{"i":25,"j":19,"n":72},{"i":26,"j":19,"n":39},{"i":27,"j":19,"n":29},{"i":28,"j":19,"n":29},{"i":29,"j":19,"n":29},{"i":30,"j":19,"n":7},{"i":31,"j":19,"n":29},{"i":32,"j":19,"n":7},{"i":33,"j":19,"n":7},{"i":34,"j":19,"n":7},{"i":35,"j":19,"n":7},{"i":36,"j":19,"n":7},{"i":37,"j":19,"n":7},{"i":38,"j":19,"n":7},{"i":39,"j":19,"n":7},{"i":40,"j":19,"n":7},{"i":41,"j":19,"n":7},{"i":42,"j":19,"n":7},{"i":43,"j":19,"n":7},{"i":45,"j":19,"n":7},
{"i":0,"j":18,"n":7},{"i":2,"j":18,"n":7},{"i":3,"j":18,"n":7},{"i":4,"j":18,"n":7},{"i":5,"j":18,"n":7},{"i":6,"j":18,"n":7},{"i":7,"j":18,"n":7},{"i":8,"j":18,"n":18},{"i":10,"j":18,"n":29},{"i":11,"j":18,"n":29},{"i":12,"j":18,"n":39},{"i":13,"j":18,"n":39},{"i":14,"j":18,"n":50},{"i":15,"j":18,"n":83},{"i":16,"j":18,"n":105},{"i":17,"j":18,"n":116},{"i":18,"j":18,"n":159},{"i":19,"j":18,"n":203},{"i":20,"j":18,"n":203},{"i":21,"j":18,"n":170},{"i":22,"j":18,"n":170},{"i":23,"j":18,"n":137},{"i":24,"j":18,"n":126},{"i":25,"j":18,"n":94},{"i":26,"j":18,"n":39},{"i":27,"j":18,"n":29},{"i":28,"j":18,"n":29},{"i":29,"j":18,"n":18},{"i":30,"j":18,"n":18},{"i":31,"j":18,"n":7},{"i":32,"j":18,"n":7},{"i":33,"j":18,"n":7},{"i":34,"j":18,"n":7},{"i":35,"j":18,"n":7},{"i":36,"j":18,"n":7},{"i":37,"j":18,"n":7},{"i":38,"j":18,"n":7},{"i":39,"j":18,"n":7},{"i":40,"j":18,"n":7},{"i":41,"j":18,"n":7},{"i":42,"j":18,"n":7},{"i":43,"j":18,"n":7},{"i":44,"j":18,"n":7},{"i":47,"j":18,"n":7},{"i":48,"j":18,"n":7},
{"i":0,"j":17,"n":7},{"i":2,"j":17,"n":7},{"i":3,"j":17,"n":7},{"i":4,"j":17,"n":7},{"i":5,"j":17,"n":7},{"i":6,"j":17,"n":7},{"i":7,"j":17,"n":18},{"i":9,"j":17,"n":7},{"i":10,"j":17,"n":7},{"i":11,"j":17,"n":29},{"i":12,"j":17,"n":39},{"i":13,"j":17,"n":39},{"i":14,"j":17,"n":39},{"i":15,"j":17,"n":61},{"i":16,"j":17,"n":94},{"i":17,"j":17,"n":116},{"i":18,"j":17,"n":137},{"i":19,"j":17,"n":159},{"i":20,"j":17,"n":203},{"i":21,"j":17,"n":181},{"i":22,"j":17,"n":170},{"i":23,"j":17,"n":137},{"i":24,"j":17,"n":126},{"i":25,"j":17,"n":94},{"i":26,"j":17,"n":50},{"i":27,"j":17,"n":39},{"i":28,"j":17,"n":29},{"i":29,"j":17,"n":29},{"i":30,"j":17,"n":18},{"i":31,"j":17,"n":18},{"i":32,"j":17,"n":18},{"i":33,"j":17,"n":18},{"i":34,"j":17,"n":7},{"i":35,"j":17,"n":7},{"i":36,"j":17,"n":7},{"i":37,"j":17,"n":7},{"i":38,"j":17,"n":7},{"i":39,"j":17,"n":7},{"i":40,"j":17,"n":7},{"i":41,"j":17,"n":7},{"i":43,"j":17,"n":7},{"i":44,"j":17,"n":7},{"i":46,"j":17,"n":7},{"i":48,"j":17,"n":7},
{"i":1,"j":16,"n":7},{"i":2,"j":16,"n":7},{"i":3,"j":16,"n":7},{"i":4,"j":16,"n":7},{"i":5,"j":16,"n":7},{"i":6,"j":16,"n":7},{"i":7,"j":16,"n":7},{"i":8,"j":16,"n":7},{"i":9,"j":16,"n":7},{"i":10,"j":16,"n":7},{"i":11,"j":16,"n":29},{"i":12,"j":16,"n":29},{"i":13,"j":16,"n":29},{"i":14,"j":16,"n":39},{"i":15,"j":16,"n":50},{"i":16,"j":16,"n":72},{"i":17,"j":16,"n":83},{"i":18,"j":16,"n":126},{"i":19,"j":16,"n":148},{"i":20,"j":16,"n":170},{"i":21,"j":16,"n":170},{"i":22,"j":16,"n":203},{"i":23,"j":16,"n":148},{"i":24,"j":16,"n":148},{"i":25,"j":16,"n":126},{"i":26,"j":16,"n":83},{"i":27,"j":16,"n":50},{"i":28,"j":16,"n":50},{"i":29,"j":16,"n":39},{"i":30,"j":16,"n":39},{"i":31,"j":16,"n":29},{"i":32,"j":16,"n":29},{"i":33,"j":16,"n":18},{"i":34,"j":16,"n":7},{"i":35,"j":16,"n":7},{"i":36,"j":16,"n":7},{"i":37,"j":16,"n":7},{"i":38,"j":16,"n":7},{"i":39,"j":16,"n":7},{"i":40,"j":16,"n":7},{"i":41,"j":16,"n":7},{"i":42,"j":16,"n":7},{"i":43,"j":16,"n":7},{"i":44,"j":16,"n":7},{"i":46,"j":16,"n":7},{"i":47,"j":16,"n":7},{"i":48,"j":16,"n":7},{"i":49,"j":16,"n":7},
{"i":2,"j":15,"n":7},{"i":3,"j":15,"n":7},{"i":4,"j":15,"n":7},{"i":5,"j":15,"n":7},{"i":6,"j":15,"n":7},{"i":7,"j":15,"n":7},{"i":8,"j":15,"n":18},{"i":9,"j":15,"n":18},{"i":10,"j":15,"n":18},{"i":11,"j":15,"n":29},{"i":12,"j":15,"n":29},{"i":13,"j":15,"n":39},{"i":14,"j":15,"n":29},{"i":15,"j":15,"n":50},{"i":16,"j":15,"n":61},{"i":17,"j":15,"n":83},{"i":18,"j":15,"n":94},{"i":19,"j":15,"n":116},{"i":20,"j":15,"n":170},{"i":21,"j":15,"n":192},{"i":22,"j":15,"n":170},{"i":23,"j":15,"n":181},{"i":24,"j":15,"n":159},{"i":25,"j":15,"n":116},{"i":26,"j":15,"n":116},{"i":27,"j":15,"n":94},{"i":28,"j":15,"n":50},{"i":29,"j":15,"n":39},{"i":30,"j":15,"n":39},{"i":31,"j":15,"n":29},{"i":32,"j":15,"n":29},{"i":33,"j":15,"n":29},{"i":34,"j":15,"n":18},{"i":35,"j":15,"n":18},{"i":36,"j":15,"n":18},{"i":37,"j":15,"n":7},{"i":38,"j":15,"n":7},{"i":39,"j":15,"n":7},{"i":40,"j":15,"n":7},{"i":41,"j":15,"n":7},{"i":42,"j":15,"n":7},{"i":43,"j":15,"n":7},{"i":44,"j":15,"n":7},{"i":45,"j":15,"n":7},{"i":46,"j":15,"n":7},{"i":47,"j":15,"n":7},{"i":49,"j":15,"n":7},
{"i":0,"j":14,"n":18},{"i":4,"j":14,"n":7},{"i":5,"j":14,"n":7},{"i":6,"j":14,"n":7},{"i":7,"j":14,"n":7},{"i":8,"j":14,"n":7},{"i":9,"j":14,"n":18},{"i":10,"j":14,"n":18},{"i":11,"j":14,"n":18},{"i":12,"j":14,"n":18},{"i":13,"j":14,"n":29},{"i":14,"j":14,"n":29},{"i":15,"j":14,"n":50},{"i":16,"j":14,"n":50},{"i":17,"j":14,"n":72},{"i":18,"j":14,"n":94},{"i":19,"j":14,"n":94},{"i":20,"j":14,"n":126},{"i":21,"j":14,"n":148},{"i":22,"j":14,"n":192},{"i":23,"j":14,"n":192},{"i":24,"j":14,"n":192},{"i":25,"j":14,"n":192},{"i":26,"j":14,"n":137},{"i":27,"j":14,"n":94},{"i":28,"j":14,"n":61},{"i":29,"j":14,"n":50},{"i":30,"j":14,"n":50},{"i":31,"j":14,"n":29},{"i":32,"j":14,"n":29},{"i":33,"j":14,"n":29},{"i":34,"j":14,"n":29},{"i":35,"j":14,"n":18},{"i":36,"j":14,"n":18},{"i":37,"j":14,"n":7},{"i":38,"j":14,"n":7},{"i":39,"j":14,"n":7},{"i":40,"j":14,"n":7},{"i":41,"j":14,"n":7},{"i":42,"j":14,"n":7},{"i":43,"j":14,"n":7},{"i":44,"j":14,"n":7},{"i":45,"j":14,"n":7},{"i":46,"j":14,"n":7},{"i":47,"j":14,"n":7},{"i":48,"j":14,"n":7},{"i":49,"j":14,"n":7},
{"i":3,"j":13,"n":7},{"i":4,"j":13,"n":7},{"i":5,"j":13,"n":7},{"i":6,"j":13,"n":7},{"i":7,"j":13,"n":7},{"i":8,"j":13,"n":7},{"i":9,"j":13,"n":7},{"i":10,"j":13,"n":18},{"i":11,"j":13,"n":29},{"i":12,"j":13,"n":7},{"i":13,"j":13,"n":61},{"i":14,"j":13,"n":29},{"i":15,"j":13,"n":39},{"i":16,"j":13,"n":39},{"i":17,"j":13,"n":39},{"i":18,"j":13,"n":72},{"i":19,"j":13,"n":72},{"i":20,"j":13,"n":105},{"i":21,"j":13,"n":126},{"i":22,"j":13,"n":137},{"i":23,"j":13,"n":148},{"i":24,"j":13,"n":181},{"i":25,"j":13,"n":137},{"i":26,"j":13,"n":137},{"i":27,"j":13,"n":137},{"i":28,"j":13,"n":137},{"i":29,"j":13,"n":94},{"i":30,"j":13,"n":61},{"i":31,"j":13,"n":50},{"i":32,"j":13,"n":39},{"i":33,"j":13,"n":39},{"i":34,"j":13,"n":29},{"i":35,"j":13,"n":18},{"i":36,"j":13,"n":18},{"i":37,"j":13,"n":18},{"i":38,"j":13,"n":18},{"i":39,"j":13,"n":7},{"i":40,"j":13,"n":7},{"i":41,"j":13,"n":7},{"i":42,"j":13,"n":7},{"i":43,"j":13,"n":7},{"i":44,"j":13,"n":7},{"i":45,"j":13,"n":7},{"i":46,"j":13,"n":7},{"i":47,"j":13,"n":7},
{"i":1,"j":12,"n":7},{"i":2,"j":12,"n":7},{"i":4,"j":12,"n":7},{"i":5,"j":12,"n":7},{"i":6,"j":12,"n":7},{"i":7,"j":12,"n":7},{"i":8,"j":12,"n":7},{"i":9,"j":12,"n":18},{"i":11,"j":12,"n":7},{"i":12,"j":12,"n":7},{"i":13,"j":12,"n":29},{"i":14,"j":12,"n":29},{"i":15,"j":12,"n":29},{"i":16,"j":12,"n":29},{"i":17,"j":12,"n":50},{"i":18,"j":12,"n":50},{"i":19,"j":12,"n":50},{"i":20,"j":12,"n":50},{"i":21,"j":12,"n":94},{"i":22,"j":12,"n":105},{"i":23,"j":12,"n":159},{"i":24,"j":12,"n":170},{"i":25,"j":12,"n":148},{"i":26,"j":12,"n":148},{"i":27,"j":12,"n":148},{"i":28,"j":12,"n":137},{"i":29,"j":12,"n":94},{"i":30,"j":12,"n":94},{"i":31,"j":12,"n":50},{"i":32,"j":12,"n":50},{"i":33,"j":12,"n":39},{"i":34,"j":12,"n":29},{"i":35,"j":12,"n":29},{"i":36,"j":12,"n":18},{"i":38,"j":12,"n":18},{"i":39,"j":12,"n":7},{"i":40,"j":12,"n":7},{"i":41,"j":12,"n":7},{"i":42,"j":12,"n":7},{"i":43,"j":12,"n":7},{"i":44,"j":12,"n":7},{"i":45,"j":12,"n":7},{"i":46,"j":12,"n":7},{"i":47,"j":12,"n":7},{"i":48,"j":12,"n":7},
{"i":2,"j":11,"n":7},{"i":3,"j":11,"n":7},{"i":4,"j":11,"n":7},{"i":5,"j":11,"n":7},{"i":6,"j":11,"n":7},{"i":7,"j":11,"n":7},{"i":8,"j":11,"n":7},{"i":9,"j":11,"n":7},{"i":10,"j":11,"n":7},{"i":11,"j":11,"n":7},{"i":12,"j":11,"n":18},{"i":13,"j":11,"n":18},{"i":14,"j":11,"n":18},{"i":15,"j":11,"n":18},{"i":16,"j":11,"n":18},{"i":17,"j":11,"n":18},{"i":18,"j":11,"n":18},{"i":19,"j":11,"n":29},{"i":20,"j":11,"n":50},{"i":21,"j":11,"n":83},{"i":22,"j":11,"n":94},{"i":23,"j":11,"n":105},{"i":24,"j":11,"n":116},{"i":25,"j":11,"n":159},{"i":26,"j":11,"n":137},{"i":27,"j":11,"n":159},{"i":28,"j":11,"n":105},{"i":29,"j":11,"n":105},{"i":30,"j":11,"n":94},{"i":31,"j":11,"n":61},{"i":32,"j":11,"n":72},{"i":33,"j":11,"n":50},{"i":34,"j":11,"n":39},{"i":35,"j":11,"n":29},{"i":36,"j":11,"n":18},{"i":37,"j":11,"n":29},{"i":38,"j":11,"n":18},{"i":39,"j":11,"n":18},{"i":40,"j":11,"n":18},{"i":41,"j":11,"n":7},{"i":42,"j":11,"n":7},{"i":43,"j":11,"n":7},{"i":44,"j":11,"n":7},{"i":45,"j":11,"n":7},{"i":46,"j":11,"n":7},{"i":47,"j":11,"n":7},{"i":48,"j":11,"n":7},{"i":49,"j":11,"n":7},
{"i":3,"j":10,"n":7},{"i":4,"j":10,"n":7},{"i":5,"j":10,"n":7},{"i":6,"j":10,"n":7},{"i":7,"j":10,"n":7},{"i":8,"j":10,"n":7},{"i":9,"j":10,"n":7},{"i":10,"j":10,"n":7},{"i":11,"j":10,"n":7},{"i":12,"j":10,"n":7},{"i":13,"j":10,"n":18},{"i":14,"j":10,"n":18},{"i":15,"j":10,"n":18},{"i":16,"j":10,"n":18},{"i":17,"j":10,"n":39},{"i":18,"j":10,"n":39},{"i":19,"j":10,"n":39},{"i":20,"j":10,"n":39},{"i":21,"j":10,"n":39},{"i":22,"j":10,"n":50},{"i":23,"j":10,"n":94},{"i":24,"j":10,"n":94},{"i":25,"j":10,"n":116},{"i":26,"j":10,"n":94},{"i":27,"j":10,"n":148},{"i":28,"j":10,"n":105},{"i":29,"j":10,"n":105},{"i":30,"j":10,"n":94},{"i":31,"j":10,"n":83},{"i":32,"j":10,"n":72},{"i":33,"j":10,"n":50},{"i":34,"j":10,"n":39},{"i":35,"j":10,"n":29},{"i":36,"j":10,"n":18},{"i":37,"j":10,"n":18},{"i":38,"j":10,"n":18},{"i":39,"j":10,"n":18},{"i":40,"j":10,"n":18},{"i":41,"j":10,"n":18},{"i":42,"j":10,"n":7},{"i":43,"j":10,"n":7},{"i":44,"j":10,"n":7},{"i":45,"j":10,"n":7},{"i":46,"j":10,"n":7},{"i":47,"j":10,"n":7},{"i":48,"j":10,"n":7},{"i":49,"j":10,"n":7},
{"i":3,"j":9,"n":7},{"i":4,"j":9,"n":7},{"i":5,"j":9,"n":7},{"i":6,"j":9,"n":7},{"i":8,"j":9,"n":7},{"i":9,"j":9,"n":7},{"i":10,"j":9,"n":7},{"i":11,"j":9,"n":7},{"i":12,"j":9,"n":7},{"i":13,"j":9,"n":7},{"i":14,"j":9,"n":18},{"i":15,"j":9,"n":7},{"i":16,"j":9,"n":18},{"i":17,"j":9,"n":18},{"i":18,"j":9,"n":29},{"i":19,"j":9,"n":29},{"i":20,"j":9,"n":39},{"i":21,"j":9,"n":39},{"i":22,"j":9,"n":39},{"i":23,"j":9,"n":39},{"i":24,"j":9,"n":61},{"i":25,"j":9,"n":61},{"i":26,"j":9,"n":83},{"i":27,"j":9,"n":83},{"i":28,"j":9,"n":83},{"i":29,"j":9,"n":83},{"i":30,"j":9,"n":83},{"i":31,"j":9,"n":83},{"i":32,"j":9,"n":61},{"i":33,"j":9,"n":50},{"i":34,"j":9,"n":39},{"i":35,"j":9,"n":39},{"i":36,"j":9,"n":29},{"i":37,"j":9,"n":29},{"i":38,"j":9,"n":29},{"i":39,"j":9,"n":29},{"i":40,"j":9,"n":7},{"i":41,"j":9,"n":7},{"i":42,"j":9,"n":7},{"i":43,"j":9,"n":7},{"i":44,"j":9,"n":7},{"i":45,"j":9,"n":7},{"i":46,"j":9,"n":7},{"i":47,"j":9,"n":7},{"i":48,"j":9,"n":7},{"i":49,"j":9,"n":7},
{"i":4,"j":8,"n":7},{"i":5,"j":8,"n":7},{"i":6,"j":8,"n":7},{"i":7,"j":8,"n":7},{"i":8,"j":8,"n":7},{"i":9,"j":8,"n":7},{"i":10,"j":8,"n":7},{"i":11,"j":8,"n":7},{"i":12,"j":8,"n":29},{"i":13,"j":8,"n":7},{"i":14,"j":8,"n":7},{"i":15,"j":8,"n":7},{"i":16,"j":8,"n":18},{"i":17,"j":8,"n":18},{"i":18,"j":8,"n":18},{"i":19,"j":8,"n":18},{"i":20,"j":8,"n":29},{"i":21,"j":8,"n":39},{"i":22,"j":8,"n":29},{"i":23,"j":8,"n":39},{"i":24,"j":8,"n":50},{"i":25,"j":8,"n":50},{"i":26,"j":8,"n":50},{"i":27,"j":8,"n":61},{"i":28,"j":8,"n":83},{"i":29,"j":8,"n":83},{"i":30,"j":8,"n":61},{"i":31,"j":8,"n":83},{"i":32,"j":8,"n":72},{"i":33,"j":8,"n":61},{"i":34,"j":8,"n":61},{"i":35,"j":8,"n":29},{"i":36,"j":8,"n":39},{"i":37,"j":8,"n":39},{"i":38,"j":8,"n":18},{"i":39,"j":8,"n":18},{"i":40,"j":8,"n":18},{"i":41,"j":8,"n":18},{"i":42,"j":8,"n":7},{"i":43,"j":8,"n":7},{"i":44,"j":8,"n":18},{"i":45,"j":8,"n":7},{"i":46,"j":8,"n":7},{"i":47,"j":8,"n":7},{"i":48,"j":8,"n":7},{"i":49,"j":8,"n":7},
{"i":2,"j":7,"n":7},{"i":4,"j":7,"n":7},{"i":7,"j":7,"n":7},{"i":8,"j":7,"n":7},{"i":9,"j":7,"n":7},{"i":10,"j":7,"n":7},{"i":11,"j":7,"n":7},{"i":12,"j":7,"n":7},{"i":13,"j":7,"n":7},{"i":14,"j":7,"n":18},{"i":15,"j":7,"n":18},{"i":16,"j":7,"n":18},{"i":17,"j":7,"n":18},{"i":18,"j":7,"n":18},{"i":19,"j":7,"n":18},{"i":20,"j":7,"n":18},{"i":21,"j":7,"n":18},{"i":22,"j":7,"n":29},{"i":23,"j":7,"n":29},{"i":24,"j":7,"n":29},{"i":25,"j":7,"n":29},{"i":26,"j":7,"n":39},{"i":27,"j":7,"n":39},{"i":28,"j":7,"n":29},{"i":29,"j":7,"n":50},{"i":30,"j":7,"n":61},{"i":31,"j":7,"n":61},{"i":32,"j":7,"n":61},{"i":33,"j":7,"n":61},{"i":34,"j":7,"n":50},{"i":35,"j":7,"n":29},{"i":36,"j":7,"n":29},{"i":37,"j":7,"n":29},{"i":38,"j":7,"n":29},{"i":39,"j":7,"n":18},{"i":40,"j":7,"n":18},{"i":41,"j":7,"n":7},{"i":42,"j":7,"n":7},{"i":43,"j":7,"n":18},{"i":44,"j":7,"n":7},{"i":45,"j":7,"n":7},{"i":46,"j":7,"n":7},{"i":47,"j":7,"n":7},{"i":48,"j":7,"n":7},{"i":49,"j":7,"n":7},
{"i":1,"j":6,"n":7},{"i":4,"j":6,"n":7},{"i":6,"j":6,"n":7},{"i":7,"j":6,"n":7},{"i":8,"j":6,"n":7},{"i":9,"j":6,"n":7},{"i":10,"j":6,"n":7},{"i":11,"j":6,"n":7},{"i":12,"j":6,"n":7},{"i":13,"j":6,"n":7},{"i":14,"j":6,"n":18},{"i":15,"j":6,"n":18},{"i":16,"j":6,"n":18},{"i":17,"j":6,"n":18},{"i":18,"j":6,"n":18},{"i":19,"j":6,"n":18},{"i":20,"j":6,"n":18},{"i":21,"j":6,"n":29},{"i":22,"j":6,"n":39},{"i":23,"j":6,"n":39},{"i":24,"j":6,"n":39},{"i":25,"j":6,"n":39},{"i":26,"j":6,"n":39},{"i":27,"j":6,"n":29},{"i":28,"j":6,"n":50},{"i":29,"j":6,"n":50},{"i":30,"j":6,"n":50},{"i":31,"j":6,"n":50},{"i":32,"j":6,"n":50},{"i":33,"j":6,"n":50},{"i":34,"j":6,"n":72},{"i":35,"j":6,"n":39},{"i":36,"j":6,"n":39},{"i":37,"j":6,"n":39},{"i":38,"j":6,"n":18},{"i":39,"j":6,"n":39},{"i":40,"j":6,"n":18},{"i":41,"j":6,"n":18},{"i":42,"j":6,"n":18},{"i":43,"j":6,"n":18},{"i":44,"j":6,"n":7},{"i":45,"j":6,"n":7},{"i":46,"j":6,"n":7},{"i":47,"j":6,"n":7},{"i":48,"j":6,"n":7},{"i":49,"j":6,"n":7},
{"i":0,"j":5,"n":7},{"i":1,"j":5,"n":7},{"i":4,"j":5,"n":7},{"i":5,"j":5,"n":7},{"i":6,"j":5,"n":7},{"i":9,"j":5,"n":7},{"i":10,"j":5,"n":7},{"i":11,"j":5,"n":7},{"i":12,"j":5,"n":7},{"i":13,"j":5,"n":7},{"i":14,"j":5,"n":7},{"i":15,"j":5,"n":7},{"i":16,"j":5,"n":7},{"i":17,"j":5,"n":7},{"i":18,"j":5,"n":7},{"i":19,"j":5,"n":7},{"i":20,"j":5,"n":18},{"i":21,"j":5,"n":18},{"i":22,"j":5,"n":18},{"i":23,"j":5,"n":18},{"i":25,"j":5,"n":18},{"i":26,"j":5,"n":29},{"i":27,"j":5,"n":29},{"i":28,"j":5,"n":29},{"i":29,"j":5,"n":29},{"i":30,"j":5,"n":50},{"i":31,"j":5,"n":39},{"i":32,"j":5,"n":50},{"i":33,"j":5,"n":61},{"i":34,"j":5,"n":39},{"i":35,"j":5,"n":39},{"i":36,"j":5,"n":29},{"i":37,"j":5,"n":29},{"i":38,"j":5,"n":29},{"i":39,"j":5,"n":29},{"i":40,"j":5,"n":29},{"i":41,"j":5,"n":7},{"i":42,"j":5,"n":18},{"i":43,"j":5,"n":7},{"i":44,"j":5,"n":7},{"i":45,"j":5,"n":7},{"i":46,"j":5,"n":7},{"i":47,"j":5,"n":7},{"i":48,"j":5,"n":7},{"i":49,"j":5,"n":7},
{"i":5,"j":4,"n":7},{"i":6,"j":4,"n":7},{"i":8,"j":4,"n":7},{"i":10,"j":4,"n":7},{"i":11,"j":4,"n":7},{"i":12,"j":4,"n":7},{"i":13,"j":4,"n":7},{"i":14,"j":4,"n":7},{"i":15,"j":4,"n":7},{"i":16,"j":4,"n":7},{"i":17,"j":4,"n":7},{"i":18,"j":4,"n":7},{"i":19,"j":4,"n":7},{"i":20,"j":4,"n":7},{"i":21,"j":4,"n":7},{"i":22,"j":4,"n":18},{"i":23,"j":4,"n":18},{"i":24,"j":4,"n":18},{"i":25,"j":4,"n":18},{"i":27,"j":4,"n":18},{"i":28,"j":4,"n":39},{"i":29,"j":4,"n":39},{"i":30,"j":4,"n":39},{"i":31,"j":4,"n":39},{"i":32,"j":4,"n":18},{"i":33,"j":4,"n":29},{"i":34,"j":4,"n":29},{"i":35,"j":4,"n":18},{"i":36,"j":4,"n":29},{"i":37,"j":4,"n":29},{"i":38,"j":4,"n":7},{"i":39,"j":4,"n":18},{"i":40,"j":4,"n":18},{"i":41,"j":4,"n":18},{"i":42,"j":4,"n":7},{"i":43,"j":4,"n":18},{"i":44,"j":4,"n":7},{"i":45,"j":4,"n":7},{"i":46,"j":4,"n":7},{"i":47,"j":4,"n":7},{"i":48,"j":4,"n":7},{"i":49,"j":4,"n":7},
{"i":4,"j":3,"n":7},{"i":6,"j":3,"n":7},{"i":7,"j":3,"n":7},{"i":9,"j":3,"n":7},{"i":10,"j":3,"n":7},{"i":12,"j":3,"n":7},{"i":13,"j":3,"n":7},{"i":14,"j":3,"n":7},{"i":15,"j":3,"n":7},{"i":16,"j":3,"n":7},{"i":17,"j":3,"n":7},{"i":18,"j":3,"n":7},{"i":19,"j":3,"n":7},{"i":20,"j":3,"n":7},{"i":21,"j":3,"n":7},{"i":22,"j":3,"n":7},{"i":23,"j":3,"n":7},{"i":24,"j":3,"n":7},{"i":25,"j":3,"n":18},{"i":26,"j":3,"n":18},{"i":27,"j":3,"n":7},{"i":28,"j":3,"n":18},{"i":29,"j":3,"n":29},{"i":30,"j":3,"n":7},{"i":31,"j":3,"n":18},{"i":32,"j":3,"n":18},{"i":33,"j":3,"n":18},{"i":34,"j":3,"n":18},{"i":35,"j":3,"n":18},{"i":36,"j":3,"n":29},{"i":37,"j":3,"n":18},{"i":38,"j":3,"n":18},{"i":39,"j":3,"n":7},{"i":40,"j":3,"n":7},{"i":41,"j":3,"n":18},{"i":42,"j":3,"n":18},{"i":43,"j":3,"n":7},{"i":44,"j":3,"n":7},{"i":45,"j":3,"n":7},{"i":46,"j":3,"n":7},{"i":47,"j":3,"n":7},{"i":48,"j":3,"n":7},{"i":49,"j":3,"n":7},
{"i":0,"j":2,"n":7},{"i":2,"j":2,"n":7},{"i":8,"j":2,"n":7},{"i":9,"j":2,"n":7},{"i":10,"j":2,"n":7},{"i":12,"j":2,"n":7},{"i":13,"j":2,"n":7},{"i":14,"j":2,"n":7},{"i":15,"j":2,"n":7},{"i":16,"j":2,"n":7},{"i":17,"j":2,"n":7},{"i":18,"j":2,"n":7},{"i":19,"j":2,"n":7},{"i":20,"j":2,"n":7},{"i":21,"j":2,"n":7},{"i":22,"j":2,"n":7},{"i":23,"j":2,"n":7},{"i":24,"j":2,"n":7},{"i":25,"j":2,"n":7},{"i":26,"j":2,"n":7},{"i":27,"j":2,"n":7},{"i":28,"j":2,"n":7},{"i":29,"j":2,"n":7},{"i":30,"j":2,"n":7},{"i":31,"j":2,"n":7},{"i":32,"j":2,"n":18},{"i":33,"j":2,"n":18},{"i":34,"j":2,"n":7},{"i":35,"j":2,"n":7},{"i":36,"j":2,"n":18},{"i":37,"j":2,"n":7},{"i":38,"j":2,"n":18},{"i":39,"j":2,"n":18},{"i":40,"j":2,"n":7},{"i":41,"j":2,"n":18},{"i":42,"j":2,"n":18},{"i":43,"j":2,"n":7},{"i":44,"j":2,"n":7},{"i":45,"j":2,"n":7},{"i":46,"j":2,"n":7},{"i":47,"j":2,"n":7},{"i":48,"j":2,"n":7},{"i":49,"j":2,"n":7},
{"i":9,"j":1,"n":7},{"i":14,"j":1,"n":7},{"i":15,"j":1,"n":7},{"i":16,"j":1,"n":7},{"i":17,"j":1,"n":7},{"i":19,"j":1,"n":7},{"i":20,"j":1,"n":7},{"i":21,"j":1,"n":7},{"i":22,"j":1,"n":7},{"i":23,"j":1,"n":7},{"i":24,"j":1,"n":7},{"i":25,"j":1,"n":7},{"i":26,"j":1,"n":7},{"i":27,"j":1,"n":7},{"i":28,"j":1,"n":7},{"i":29,"j":1,"n":7},{"i":30,"j":1,"n":7},{"i":31,"j":1,"n":7},{"i":32,"j":1,"n":7},{"i":33,"j":1,"n":7},{"i":34,"j":1,"n":7},{"i":35,"j":1,"n":7},{"i":36,"j":1,"n":7},{"i":37,"j":1,"n":7},{"i":38,"j":1,"n":18},{"i":39,"j":1,"n":7},{"i":40,"j":1,"n":7},{"i":41,"j":1,"n":7},{"i":42,"j":1,"n":7},{"i":43,"j":1,"n":7},{"i":44,"j":1,"n":7},{"i":45,"j":1,"n":7},{"i":46,"j":1,"n":7},{"i":47,"j":1,"n":7},{"i":48,"j":1,"n":7},{"i":49,"j":1,"n":7},
{"i":15,"j":0,"n":7},{"i":17,"j":0,"n":7},{"i":18,"j":0,"n":7},{"i":20,"j":0,"n":7},{"i":21,"j":0,"n":7},{"i":22,"j":0,"n":7},{"i":23,"j":0,"n":7},{"i":24,"j":0,"n":7},{"i":26,"j":0,"n":7},{"i":27,"j":0,"n":7},{"i":28,"j":0,"n":7},{"i":29,"j":0,"n":7},{"i":30,"j":0,"n":7},{"i":31,"j":0,"n":7},{"i":32,"j":0,"n":7},{"i":33,"j":0,"n":7},{"i":34,"j":0,"n":7},{"i":35,"j":0,"n":7},{"i":36,"j":0,"n":7},{"i":37,"j":0,"n":7},{"i":38,"j":0,"n":7},{"i":39,"j":0,"n":7},{"i":40,"j":0,"n":7},{"i":41,"j":0,"n":7},{"i":42,"j":0,"n":7},{"i":43,"j":0,"n":7},{"i":44,"j":0,"n":7},{"i":45,"j":0,"n":7},{"i":46,"j":0,"n":7},{"i":48,"j":0,"n":7},{"i":49,"j":0,"n":7}
],
"c":[{"a":-9.4,"b":1.5,"n":0},{"a":1.5,"b":12.3,"n":7},{"a":12.3,"b":23.2,"n":18},{"a":23.2,"b":34.1,"n":29},{"a":34.1,"b":44.9,"n":39},{"a":44.9,"b":55.8,"n":50},{"a":55.8,"b":66.7,"n":61},{"a":66.7,"b":77.6,"n":72},{"a":77.6,"b":88.4,"n":83},{"a":88.4,"b":99.3,"n":94},{"a":99.3,"b":110.2,"n":105},{"a":110.2,"b":121,"n":116},{"a":121,"b":131.9,"n":126},{"a":131.9,"b":142.8,"n":137},{"a":142.8,"b":153.7,"n":148},{"a":153.7,"b":164.5,"n":159},{"a":164.5,"b":175.4,"n":170},{"a":175.4,"b":186.3,"n":181},{"a":186.3,"b":197.1,"n":192},{"a":197.1,"b":208,"n":203}],
"l":[{"v":1.8}],"m":[{"v":1.0}],
"lb":[{"x":2003.87,"y":2.4,"s":"F"}],
"ls":[{"x":2004.05,"y":2.461,"s":"μ"}],
"rb":[{"x":2018.5,"y":2.046,"s":"E"},{"x":2018.5,"y":2.205,"s":"/"},{"x":2018.5,"y":2.238,"s":"E"}],
"rs":[{"x":2018.64,"y":2.124,"s":"FD"},{"x":2018.64,"y":2.316,"s":"SD"}],
"hb":[{"x":-4.525,"y":41.96,"s":"E"},{"x":-4.525,"y":46.1,"s":"/"},{"x":-4.525,"y":46.87,"s":"E"},{"x":47.4,"y":-4.85,"s":"F"}],
"hs":[{"x":-3.846,"y":43.9,"s":"FD"},{"x":-3.846,"y":48.8,"s":"SD"}],
"hu":[{"x":48.87,"y":-4.96,"s":"μ"}]
},
"hconcat":[
{"width":441,"height":463,
 "view":{"stroke":"#999","strokeWidth":1.5},
 "title":{"text":"(a)","orient":"bottom","offset":38},
 "layer":[
 {"layer":[
 {"data":{"name":"l"},"mark":{"type":"rule","color":"#444","strokeDash":[10,4],"strokeWidth":1},"encoding":{"y":{"field":"v","type":"quantitative","scale":{"domain":[0.5,2.5],"nice":false},"axis":{"title":null,"tickCount":100,"values":[0.55,0.6,0.65,0.7,0.75,0.8,0.85,0.9,0.95,1,1.05,1.1,1.15,1.2,1.25,1.3,1.35,1.4,1.45,1.5,1.55,1.6,1.65,1.7,1.75,1.8,1.85,1.9,1.95,2,2.05,2.1,2.15,2.2,2.25,2.3,2.35,2.4,2.45],"labelExpr":"abs(datum.value*5-round(datum.value*5))<0.01 ? format(datum.value,'.1~f') : ''","format":".2f","domainColor":"#999","domainWidth":1.5,"tickColor":"#777","tickSize":{"condition":{"test":"abs(datum.value*5-round(datum.value*5))<0.01","value":-14},"value":-7},"labelFontSize":15,"labelColor":"#111","labelPadding":10,"labelOverlap":false,"labelFlush":false}}}},
 {"data":{"name":"d"},"mark":{"type":"rule","color":"#222"},"encoding":{"x":{"field":"a","type":"quantitative","scale":{"domain":[2005,2017.08],"nice":false},"axis":{"title":"Time [year]","tickCount":100,"format":".1f","titleFontSize":24,"titleFontWeight":"normal","titleColor":"#111","titleAnchor":"end","titlePadding":6,"values":[2005.5,2006,2006.5,2007,2007.5,2008,2008.5,2009,2009.5,2010,2010.5,2011,2011.5,2012,2012.5,2013,2013.5,2014,2014.5,2015,2015.5,2016,2016.5],"labelExpr":"datum.value%2==0?format(datum.value,'d'):''","tickColor":"#444","tickSize":{"condition":{"test":"datum.value%2==0","value":-13},"value":-7},"labelFontSize":15,"labelColor":"#111","labelPadding":11,"labelOverlap":false,"labelFlush":false,"domainColor":"#999","domainWidth":1.5}},"x2":{"field":"b"},"y":{"field":"f","type":"quantitative"}}},
 {"data":{"name":"d"},"mark":{"type":"rule","color":"#222"},"encoding":{"x":{"field":"t","type":"quantitative"},"y":{"field":"fl","type":"quantitative"},"y2":{"field":"fh"}}},
 {"data":{"name":"d"},"mark":{"type":"circle","color":"#000","size":22,"opacity":1},"encoding":{"x":{"field":"t","type":"quantitative"},"y":{"field":"f","type":"quantitative"}}},
 {"data":{"name":"lb"},"mark":{"type":"text","angle":270,"fontSize":24,"align":"left","baseline":"alphabetic","color":"#111"},"encoding":{"x":{"field":"x","type":"quantitative"},"y":{"field":"y","type":"quantitative"},"text":{"field":"s"}}},
 {"data":{"name":"ls"},"mark":{"type":"text","angle":270,"fontSize":14,"align":"left","baseline":"alphabetic","color":"#111"},"encoding":{"x":{"field":"x","type":"quantitative"},"y":{"field":"y","type":"quantitative"},"text":{"field":"s"}}}
 ]},
 {"layer":[
 {"data":{"name":"m"},"mark":{"type":"rule","color":"#f55","strokeDash":[10,4],"strokeWidth":1},"encoding":{"y":{"field":"v","type":"quantitative","scale":{"domain":[0.5,2.5],"nice":false},"axis":{"orient":"right","title":null,"tickCount":100,"values":[0.55,0.6,0.65,0.7,0.75,0.8,0.85,0.9,0.95,1,1.05,1.1,1.15,1.2,1.25,1.3,1.35,1.4,1.45,1.5,1.55,1.6,1.65,1.7,1.75,1.8,1.85,1.9,1.95,2,2.05,2.1,2.15,2.2,2.25,2.3,2.35,2.4,2.45],"labelExpr":"abs(datum.value*5-round(datum.value*5))<0.01 ? format(datum.value,'.1~f') : ''","format":".2f","domainColor":"#f99","domainWidth":1.5,"tickColor":"#f66","tickSize":{"condition":{"test":"abs(datum.value*5-round(datum.value*5))<0.01","value":-14},"value":-7},"labelFontSize":15,"labelColor":"#f11","labelPadding":10,"labelOverlap":false,"labelFlush":false}}}},
 {"data":{"name":"d"},"mark":{"type":"rule","color":"#f00"},"encoding":{"x":{"field":"a","type":"quantitative"},"x2":{"field":"b"},"y":{"field":"e","type":"quantitative"}}},
 {"data":{"name":"d"},"mark":{"type":"rule","color":"#f00"},"encoding":{"x":{"field":"t","type":"quantitative"},"y":{"field":"el","type":"quantitative"},"y2":{"field":"eh"}}},
 {"data":{"name":"d"},"mark":{"type":"circle","color":"#f00","size":22,"opacity":1},"encoding":{"x":{"field":"t","type":"quantitative"},"y":{"field":"e","type":"quantitative"}}},
 {"data":{"name":"rb"},"mark":{"type":"text","angle":270,"fontSize":27,"fontWeight":"bold","align":"left","baseline":"alphabetic","color":"#f00"},"encoding":{"x":{"field":"x","type":"quantitative"},"y":{"field":"y","type":"quantitative"},"text":{"field":"s"}}},
 {"data":{"name":"rs"},"mark":{"type":"text","angle":270,"fontSize":14,"fontWeight":"bold","align":"left","baseline":"alphabetic","color":"#f00"},"encoding":{"x":{"field":"x","type":"quantitative"},"y":{"field":"y","type":"quantitative"},"text":{"field":"s"}}}
 ]}
 ],
 "resolve":{"scale":{"y":"independent"}}
},
{"bounds":"flush","spacing":2,"hconcat":[
 {"width":442,"height":463,"title":{"text":"(b)","orient":"bottom","offset":38},
  "view":{"fill":"#293aa3"},
  "layer":[
  {"data":{"name":"h"},
  "mark":{"type":"rect"},
  "encoding":{
   "x":{"field":"i","bin":{"step":1},"type":"quantitative","scale":{"domain":[0,50],"nice":false},"axis":{"title":null,"format":".2f","values":[1.25,2.5,3.75,5,6.25,7.5,8.75,10,11.25,12.5,13.75,15,16.25,17.5,18.75,20,21.25,22.5,23.75,25,26.25,27.5,28.75,30,31.25,32.5,33.75,35,36.25,37.5,38.75,40,41.25,42.5,43.75,45,46.25,47.5,48.75,0,50],"labelExpr":"datum.value%6.25==0?format(datum.value*0.08,'.1~f'):''","tickColor":"#111","tickSize":{"condition":{"test":"datum.value%6.25==0","value":-13},"value":-7},"labelFontSize":15,"labelColor":"#111","labelPadding":11,"labelFlush":false,"domainColor":"#666"}},
   "y":{"field":"j","bin":{"step":1},"type":"quantitative","scale":{"domain":[0,51],"nice":false},"axis":{"title":null,"format":".3f","values":[1.923,3.846,5.769,7.692,9.615,11.538,13.462,15.385,17.308,19.231,21.154,23.077,25,26.923,28.846,30.769,32.692,34.615,36.538,38.462,40.385,42.308,44.231,46.154,48.077,50],"labelExpr":"round(datum.value/1.92308)%4==2?format(0.5+round(datum.value/1.92308)*0.05,'.1~f'):''","tickColor":"#111","tickSize":{"condition":{"test":"round(datum.value/1.92308)%4==2","value":-14},"value":-7},"labelFontSize":15,"labelColor":"#111","labelPadding":10,"domainColor":"#666"}},
   "color":{"field":"n","type":"quantitative","legend":null,"scale":{"type":"threshold","domain":[1.5,12.3,23.2,34.1,44.9,55.8,66.7,77.6,88.4,99.3,110.2,121,131.9,142.8,153.7,164.5,175.4,186.3,197.1],"range":["#293aa3","#1a4ec5","#1061dc","#1270d9","#147fd6","#0f8dd2","#0a9bcd","#0ca7c4","#1caeb5","#2cb6a6","#4eba94","#72bd82","#93be72","#b1bd66","#cfbb5a","#e2c04a","#f4c53a","#fdd22b","#fbe61d","#f9fb0e"]}}
  }},
  {"data":{"name":"hb"},"mark":{"type":"text","fontSize":26,"align":"left","baseline":"alphabetic","color":"#111","angle":270},"transform":[{"filter":"datum.s!='F'"}],"encoding":{"x":{"field":"x","type":"quantitative"},"y":{"field":"y","type":"quantitative"},"text":{"field":"s"}}},
  {"data":{"name":"hs"},"mark":{"type":"text","fontSize":15,"align":"left","baseline":"alphabetic","color":"#111","angle":270},"encoding":{"x":{"field":"x","type":"quantitative"},"y":{"field":"y","type":"quantitative"},"text":{"field":"s"}}},
  {"data":{"name":"hb"},"mark":{"type":"text","fontSize":24,"align":"left","baseline":"alphabetic","color":"#111"},"transform":[{"filter":"datum.s=='F'"}],"encoding":{"x":{"field":"x","type":"quantitative"},"y":{"field":"y","type":"quantitative"},"text":{"field":"s"}}},
  {"data":{"name":"hu"},"mark":{"type":"text","fontSize":14,"align":"left","baseline":"alphabetic","color":"#111"},"encoding":{"x":{"field":"x","type":"quantitative"},"y":{"field":"y","type":"quantitative"},"text":{"field":"s"}}}
  ]},
 {"width":26,"height":463,"data":{"name":"c"},"mark":{"type":"rect"},
  "encoding":{"y":{"field":"a","type":"quantitative","scale":{"domain":[-9.4,208],"nice":false},"axis":{"orient":"right","title":null,"values":[0,50,100,150,200],"tickSize":-15,"tickColor":"#333","labelFontSize":17,"labelColor":"#111","labelPadding":17,"domainColor":"#777"}},"y2":{"field":"b"},"color":{"field":"n","type":"quantitative","legend":null,"scale":{"type":"threshold","domain":[1.5,12.3,23.2,34.1,44.9,55.8,66.7,77.6,88.4,99.3,110.2,121,131.9,142.8,153.7,164.5,175.4,186.3,197.1],"range":["#293aa3","#1a4ec5","#1061dc","#1270d9","#147fd6","#0f8dd2","#0a9bcd","#0ca7c4","#1caeb5","#2cb6a6","#4eba94","#72bd82","#93be72","#b1bd66","#cfbb5a","#e2c04a","#f4c53a","#fdd22b","#fbe61d","#f9fb0e"]}}}}
]}
]
}
